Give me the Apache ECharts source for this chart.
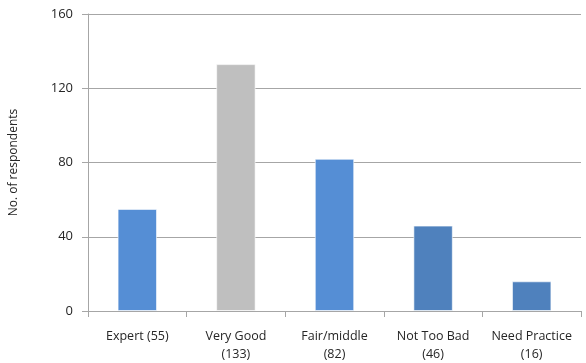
<!DOCTYPE html>
<html>
<head>
<meta charset="utf-8">
<script src="https://cdn.jsdelivr.net/npm/echarts@6/dist/echarts.min.js"></script>
<style>
  html, body { margin: 0; padding: 0; background: #fff; }
  #chart { width: 586px; height: 363px; }
</style>
</head>
<body>
<div id="chart"></div>
<script>
// Self-rated skill level of respondents
const categories = ['Expert (55)', 'Very Good\n(133)', 'Fair/middle\n(82)', 'Not Too Bad\n(46)', 'Need Practice\n(16)'];
const respondents = [55, 133, 82, 46, 16];
const barColors = ['#558ED5', '#BFBFBF', '#558ED5', '#4F81BD', '#4F81BD'];
const yTicks = { min: 0, max: 160, interval: 40 };
const yAxisTitle = 'No. of respondents';

const font = '"Open Sans", "DejaVu Sans", sans-serif';
const chart = echarts.init(document.getElementById('chart'));
chart.setOption({
  animation: false,
  grid: { left: 87, right: 5, top: 14, bottom: 52 },
  xAxis: {
    type: 'category',
    data: categories,
    axisLine: { lineStyle: { color: '#A6A6A6', width: 1 } },
    axisTick: { show: true, length: 6, lineStyle: { color: '#A6A6A6' } },
    axisLabel: { color: '#262626', fontFamily: font, fontSize: 12.5, margin: 16, lineHeight: 18, interval: 0 }
  },
  yAxis: {
    type: 'value',
    min: yTicks.min, max: yTicks.max, interval: yTicks.interval,
    name: yAxisTitle,
    nameLocation: 'middle',
    nameGap: 68,
    nameTextStyle: { color: '#262626', fontFamily: font, fontSize: 12 },
    axisLine: { show: true, lineStyle: { color: '#A6A6A6', width: 1 } },
    axisTick: { show: true, length: 6, lineStyle: { color: '#A6A6A6' } },
    axisLabel: { color: '#262626', fontFamily: font, fontSize: 13, margin: 15 },
    splitLine: { lineStyle: { color: '#A6A6A6', width: 1 } }
  },
  series: [{
    type: 'bar',
    data: respondents.map((v, i) => ({ value: v, itemStyle: { color: barColors[i] } })),
    barWidth: '40%',
    itemStyle: { borderColor: 'rgba(255,255,255,0.6)', borderWidth: 1 }
  }]
});
</script>
</body>
</html>
